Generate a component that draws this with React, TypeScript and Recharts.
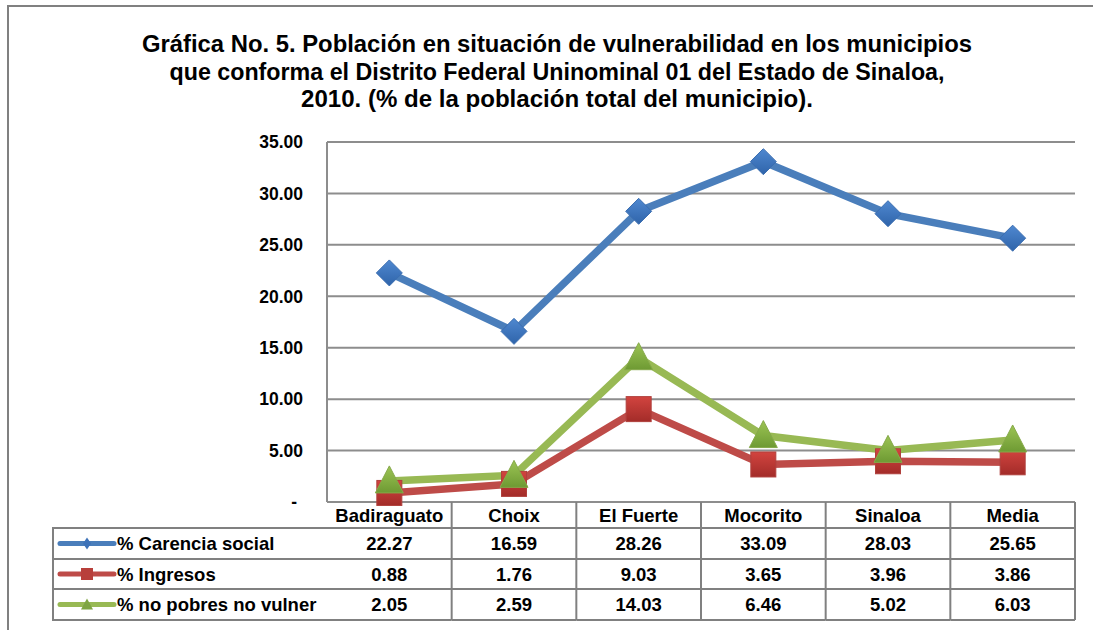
import React from 'react';
import { LineChart, Line, XAxis, YAxis, CartesianGrid } from 'recharts';

const categories = ['Badiraguato', 'Choix', 'El Fuerte', 'Mocorito', 'Sinaloa', 'Media'];
const carenciaSocial = [22.27, 16.59, 28.26, 33.09, 28.03, 25.65];
const ingresos = [0.88, 1.76, 9.03, 3.65, 3.96, 3.86];
const noPobresNoVulner = [2.05, 2.59, 14.03, 6.46, 5.02, 6.03];
const seriesNames = ['% Carencia social', '% Ingresos', '% no pobres no vulner'];
const seriesValues = [carenciaSocial, ingresos, noPobresNoVulner];
const yTicks = [0, 5, 10, 15, 20, 25, 30, 35];
const titleLines = [
  'Gráfica No. 5. Población en situación de vulnerabilidad en los municipios',
  'que conforma el Distrito Federal Uninominal 01 del Estado de Sinaloa,',
  '2010. (% de la población total del municipio).',
];
const titleWidths = [830, 775, 512];

const data = categories.map((c, i) => ({
  name: c,
  carencia: carenciaSocial[i],
  ingresos: ingresos[i],
  noPobres: noPobresNoVulner[i],
}));

const W = 1093;
const H = 630;
const PLOT_L = 327;
const PLOT_R = 1075;
const PLOT_T = 142;
const PLOT_B = 502;
const CELL_W = (PLOT_R - PLOT_L) / categories.length;
const ROW_LINES = [528, 559, 589, 620];
const HEADER_Y = 515;
const ROW_Y = [543.5, 574, 604.5];
const FONT = '"Liberation Sans", Arial, Helvetica, sans-serif';
const GRID = '#8d8d8d';
const BORDER = '#808080';
const COLORS = ['#4A7EBB', '#BE4B48', '#98B954'];
const TABLE_FS = 18.5;

const fmt = (v: number) => v.toFixed(2);

const Diamond = (props: any) => {
  const { cx, cy } = props;
  if (cx == null || cy == null) return null;
  const r = 13;
  return (
    <polygon
      points={`${cx},${cy - r} ${cx + r},${cy} ${cx},${cy + r} ${cx - r},${cy}`}
      fill="url(#gBlue)"
      stroke="#3A6DB0"
      strokeWidth={1}
    />
  );
};

const Square = (props: any) => {
  const { cx, cy } = props;
  if (cx == null || cy == null) return null;
  const s = 25;
  return <rect x={cx - s / 2} y={cy - s / 2} width={s} height={s} fill="url(#gRed)" stroke="#B0403C" strokeWidth={1} />;
};

const Triangle = (props: any) => {
  const { cx, cy } = props;
  if (cx == null || cy == null) return null;
  return (
    <polygon
      points={`${cx},${cy - 15} ${cx + 14},${cy + 12} ${cx - 14},${cy + 12}`}
      fill="url(#gGreen)"
      stroke="#86A94A"
      strokeWidth={1}
    />
  );
};

const YTick = (props: any) => {
  const { y, payload } = props;
  const v = payload.value as number;
  return (
    <text
      x={v === 0 ? 297 : 303}
      y={y}
      dy="0.36em"
      textAnchor="end"
      fontFamily={FONT}
      fontWeight="bold"
      fontSize={17.5}
      fill="#000"
    >
      {v === 0 ? '-' : fmt(v)}
    </text>
  );
};

const XTick = (props: any) => {
  const { x, payload } = props;
  const idx = categories.indexOf(payload.value);
  const left = x - CELL_W / 2;
  const right = x + CELL_W / 2;
  return (
    <g>
      <line x1={right} y1={PLOT_B} x2={right} y2={ROW_LINES[3]} stroke={BORDER} strokeWidth={2} />
      {ROW_LINES.map((ly) => (
        <line key={ly} x1={left} y1={ly} x2={right} y2={ly} stroke={BORDER} strokeWidth={2} />
      ))}
      <text x={x} y={HEADER_Y} dy="0.36em" textAnchor="middle" fontFamily={FONT} fontWeight="bold" fontSize={TABLE_FS} fill="#000">
        {payload.value}
      </text>
      {seriesValues.map((arr, r) => (
        <text
          key={r}
          x={x}
          y={ROW_Y[r]}
          dy="0.36em"
          textAnchor="middle"
          fontFamily={FONT}
          fontWeight="bold"
          fontSize={TABLE_FS}
          fill="#000"
        >
          {fmt(arr[idx])}
        </text>
      ))}
    </g>
  );
};

const LegendKey = ({ i, y }: { i: number; y: number }) => {
  const c = COLORS[i];
  const mx = 87;
  let marker: React.ReactNode = null;
  if (i === 0)
    marker = <polygon points={`${mx},${y - 6} ${mx + 4},${y} ${mx},${y + 6} ${mx - 4},${y}`} fill="#3D72B8" />;
  else if (i === 1) marker = <rect x={mx - 6} y={y - 6} width={12} height={12} fill="#B83F3B" />;
  else marker = <polygon points={`${mx},${y - 6} ${mx + 6},${y + 5} ${mx - 6},${y + 5}`} fill="#7FA543" />;
  return (
    <g>
      <line x1={60} y1={y} x2={114} y2={y} stroke={c} strokeWidth={5} strokeLinecap="round" />
      {marker}
    </g>
  );
};

export default function App() {
  return (
    <div style={{ position: 'absolute', left: 0, top: 0, width: W, height: H, background: '#fff' }}>
      <LineChart
        width={W}
        height={H}
        data={data}
        margin={{ top: PLOT_T, right: W - PLOT_R, bottom: 10, left: PLOT_L - 60 }}
      >
        <CartesianGrid horizontal vertical={false} stroke={GRID} strokeWidth={2} />
        <XAxis
          dataKey="name"
          height={H - PLOT_B - 10}
          interval={0}
          padding={{ left: CELL_W / 2, right: CELL_W / 2 }}
          tickLine={false}
          axisLine={{ stroke: GRID, strokeWidth: 2 }}
          tick={<XTick />}
        />
        <YAxis
          width={60}
          domain={[0, 35]}
          ticks={yTicks}
          interval={0}
          tickLine={false}
          axisLine={{ stroke: GRID, strokeWidth: 2 }}
          tick={<YTick />}
        />
        <Line
          dataKey="carencia"
          name={seriesNames[0]}
          stroke={COLORS[0]}
          strokeWidth={7.5}
          dot={<Diamond />}
          activeDot={false}
          isAnimationActive={false}
        />
        <Line
          dataKey="ingresos"
          name={seriesNames[1]}
          stroke={COLORS[1]}
          strokeWidth={7.5}
          dot={<Square />}
          activeDot={false}
          isAnimationActive={false}
        />
        <Line
          dataKey="noPobres"
          name={seriesNames[2]}
          stroke={COLORS[2]}
          strokeWidth={7.5}
          dot={<Triangle />}
          activeDot={false}
          isAnimationActive={false}
        />
      </LineChart>
      <svg
        width={W}
        height={H}
        style={{ position: 'absolute', left: 0, top: 0, pointerEvents: 'none' }}
      >
        <defs>
          <linearGradient id="gBlue" x1="0" y1="0" x2="0" y2="1">
            <stop offset="0%" stopColor="#4F88D0" />
            <stop offset="100%" stopColor="#2F64AA" />
          </linearGradient>
          <linearGradient id="gRed" x1="0" y1="0" x2="0" y2="1">
            <stop offset="0%" stopColor="#D2443F" />
            <stop offset="100%" stopColor="#A32C29" />
          </linearGradient>
          <linearGradient id="gGreen" x1="0" y1="0" x2="0" y2="1">
            <stop offset="0%" stopColor="#9CC454" />
            <stop offset="100%" stopColor="#6E9A33" />
          </linearGradient>
        </defs>
        <line x1={8} y1={6} x2={8} y2={H} stroke={BORDER} strokeWidth={2} />
        <line x1={7} y1={6} x2={W} y2={6} stroke={BORDER} strokeWidth={2} />
        {titleLines.map((t, i) => (
          <text
            key={i}
            x={557}
            y={52 + i * 27.5}
            textAnchor="middle"
            fontFamily={FONT}
            fontWeight="bold"
            fontSize={23}
            textLength={titleWidths[i]}
            lengthAdjust="spacingAndGlyphs"
            fill="#000"
          >
            {t}
          </text>
        ))}
        <line x1={53} y1={ROW_LINES[0]} x2={53} y2={ROW_LINES[3]} stroke={BORDER} strokeWidth={2} />
        {ROW_LINES.map((ly) => (
          <line key={ly} x1={52} y1={ly} x2={PLOT_L} y2={ly} stroke={BORDER} strokeWidth={2} />
        ))}
        {seriesNames.map((n, i) => (
          <g key={n}>
            <LegendKey i={i} y={ROW_Y[i]} />
            <text
              x={117}
              y={ROW_Y[i]}
              dy="0.36em"
              fontFamily={FONT}
              fontWeight="bold"
              fontSize={TABLE_FS}
              fill="#000"
            >
              {n}
            </text>
          </g>
        ))}
      </svg>
    </div>
  );
}
